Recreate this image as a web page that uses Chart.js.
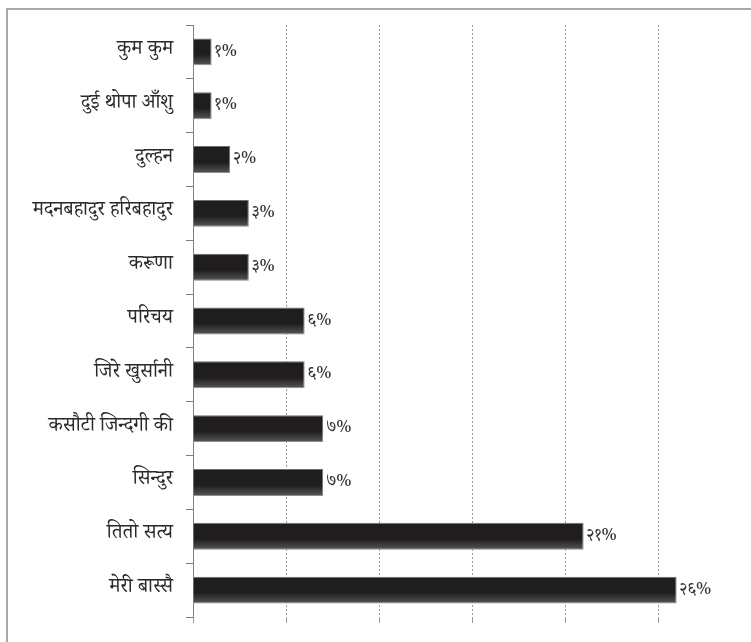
<!DOCTYPE html>
<html>
<head>
<meta charset="utf-8">
<script src="https://cdn.jsdelivr.net/npm/chart.js@4.4.1/dist/chart.umd.min.js"></script>
<style>
  html, body { margin: 0; padding: 0; background: #fff; overflow: hidden; }
  #wrap { position: relative; width: 751px; height: 642px; }
  #frame { position: absolute; left: 6px; top: 8px; right: -4px; bottom: -4px;
           border-left: 2px solid #a8a8a8; border-top: 2px solid #a8a8a8; }
  canvas { position: absolute; left: 0; top: 0; }
</style>
</head>
<body>
<div id="wrap">
  <div id="frame"></div>
  <canvas id="c" width="751" height="642"></canvas>
</div>
<script>
const categories = ["कुम कुम", "दुई थोपा आँशु", "दुल्हन", "मदनबहादुर हरिबहादुर", "करूणा",
                    "परिचय", "जिरे खुर्सानी", "कसौटी जिन्दगी की", "सिन्दुर", "तितो सत्य", "मेरी बास्सै"];
const values = [1, 1, 2, 3, 3, 6, 6, 7, 7, 21, 26];
const xTicks = [0, 5, 10, 15, 20, 25, 30];

const devDigits = ["०","१","२","३","४","५","६","७","८","९"];
function toDev(n) { return String(n).split("").map(d => devDigits[+d] ?? d).join(""); }

const FONT = '"Noto Serif Devanagari", "Noto Sans Devanagari", "Lohit Devanagari", serif';

const barLabels = {
  id: 'barLabels',
  afterDatasetsDraw(chart) {
    const ctx = chart.ctx;
    const meta = chart.getDatasetMeta(0);
    ctx.save();
    meta.data.forEach((bar, i) => {
      const top = bar.y - bar.height / 2;
      const g = ctx.createLinearGradient(0, top, 0, top + bar.height);
      g.addColorStop(0, 'rgba(255,255,255,0)');
      g.addColorStop(0.6, 'rgba(255,255,255,0)');
      g.addColorStop(1, 'rgba(255,255,255,0.25)');
      ctx.fillStyle = g;
      ctx.fillRect(bar.base, top, bar.x - bar.base, bar.height);
      ctx.fillStyle = '#333';
      ctx.font = '17px ' + FONT;
      ctx.textAlign = 'left';
      ctx.textBaseline = 'middle';
      ctx.fillText(toDev(values[i]) + '%', bar.x + 3, bar.y + 2);
    });
    ctx.restore();
  }
};

new Chart(document.getElementById('c'), {
  type: 'bar',
  data: {
    labels: categories,
    datasets: [{
      data: values,
      backgroundColor: '#1f1d1e',
      borderColor: '#6e6e6e',
      borderWidth: 1,
      categoryPercentage: 1.0,
      barPercentage: 0.5
    }]
  },
  options: {
    indexAxis: 'y',
    responsive: false,
    animation: false,
    devicePixelRatio: 1,
    layout: { padding: { top: 15, right: 0, left: 0, bottom: 0 } },
    plugins: { legend: { display: false }, tooltip: { enabled: false } },
    scales: {
      x: {
        min: 0, max: 30,
        afterBuildTicks(scale) { scale.ticks = xTicks.map(v => ({ value: v })); },
        ticks: { display: false },
        border: { display: false, dash: [2, 2] },
        grid: { color: '#9a9a9a', lineWidth: 1, tickLength: 6, drawTicks: true },
        afterFit(scale) { scale.height = 6; }
      },
      y: {
        afterFit(scale) { scale.width = 193; },
        ticks: { color: '#2a2a2a', padding: 13, font: { family: FONT, size: 20 } },
        border: { display: true, color: '#808080', width: 1 },
        grid: { offset: true, drawOnChartArea: false, drawTicks: true, tickLength: 7, color: '#808080' }
      }
    }
  },
  plugins: [barLabels]
});
</script>
</body>
</html>
